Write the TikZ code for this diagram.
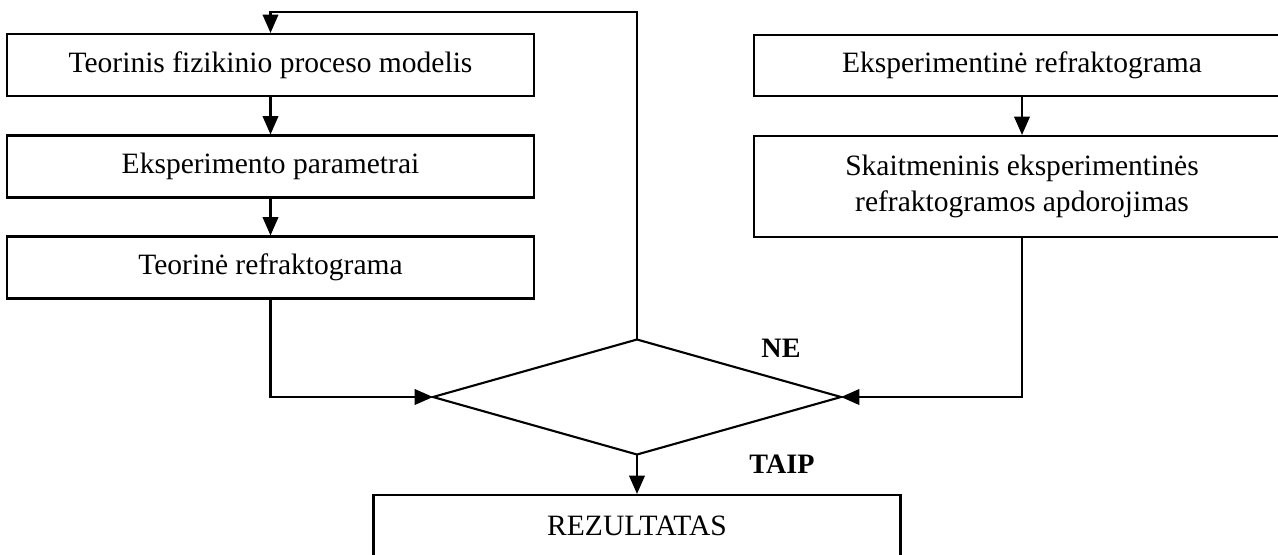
\documentclass[tikz,border=0pt]{standalone}
\usepackage{fontspec}
\setmainfont{Liberation Serif}
\usetikzlibrary{arrows.meta, shapes.geometric}

\begin{document}
\begin{tikzpicture}[> = {Triangle[length = 13pt, width = 11pt]}, line width = 1.5pt,
	block/.style = {draw, rectangle, minimum width = 13.175cm, minimum height = 1.55cm,
		inner sep = 0pt, align = center, font = \fontsize{21}{25}\selectfont},
	answer/.style = {font = \fontsize{20}{24}\selectfont\bfseries}]

	% Frame
	
	\clip (0, 0) rectangle (31.95, -13.85);
	
	% Theory column
	
	\node [block] (model) at (6.7625, -1.625) {Teorinis fizikinio proceso modelis};
	\node [block] (params) at (6.7625, -4.1625) {Eksperimento parametrai};
	\node [block] (theory) at (6.7625, -6.6875) {Teorinė refraktograma};
	
	\draw [->] (model.south) -- (params.north);
	\draw [->] (params.south) -- (theory.north);
	
	% Experiment column
	
	\node [block, minimum width = 13.4cm, minimum height = 1.525cm] (exper) at (25.55, -1.6375)
		{Eksperimentinė refraktograma};
	\node [block, minimum width = 13.4cm, minimum height = 2.525cm] (digital) at (25.55, -4.6625)
		{Skaitmeninis eksperimentinės\\refraktogramos apdorojimas};
	
	\draw [->] (exper.south) -- (digital.north);
	
	% Comparison
	
	\node [draw, diamond, minimum width = 10.2cm, minimum height = 2.875cm, inner sep = 0pt,
		outer sep = 0pt] (check) at (15.925, -9.925) {};
	
	\draw [->] (theory.south) |- (check.west);
	\draw [->] (digital.south) |- (check.east);
	
	% Outcomes
	
	\node [block] (result) at (15.925, -13.15) {REZULTATAS};
	\draw [->] (check.south) -- (result.north);
	
	\coordinate (loop) at (15.925, -0.3);
	\draw [->] (check.north) -- (loop) -| (model.north);
	
	\node [answer] (no) at (19.525, -8.7) {NE};
	\node [answer] (yes) at (19.55, -11.6) {TAIP};

\end{tikzpicture}
\end{document}
